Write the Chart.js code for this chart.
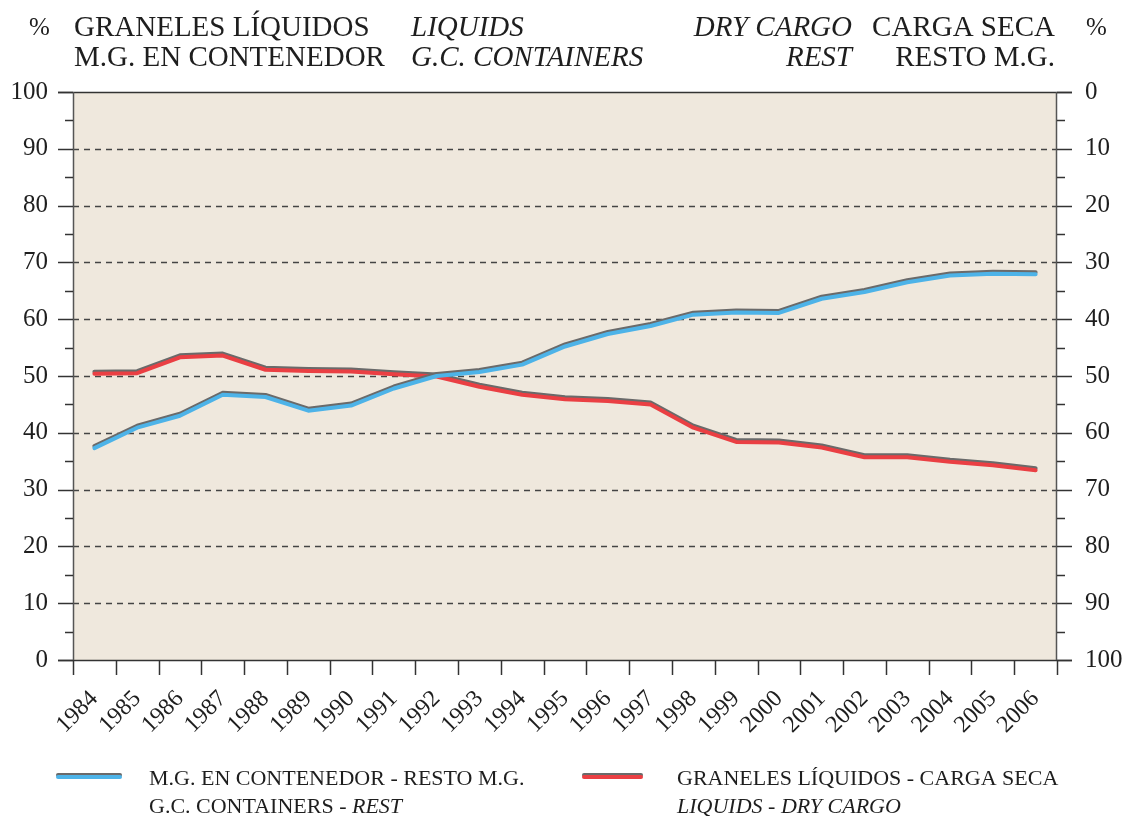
<!DOCTYPE html>
<html><head><meta charset="utf-8">
<script src="https://cdn.jsdelivr.net/npm/chart.js@4/dist/chart.umd.min.js"></script>
<style>html,body{margin:0;padding:0;background:#fff;}#c{display:block;}</style>
</head><body>
<canvas id="c" width="1128" height="816"></canvas>
<script>
const years = ['1984','1985','1986','1987','1988','1989','1990','1991','1992','1993','1994','1995','1996','1997','1998','1999','2000','2001','2002','2003','2004','2005','2006'];
const containers = [37.3,40.9,43.0,46.7,46.3,43.9,44.8,47.8,50.0,50.7,52.0,55.2,57.4,58.8,60.8,61.2,61.1,63.6,64.8,66.5,67.7,68.0,67.9];
const liquids = [50.4,50.5,53.3,53.6,51.1,50.9,50.8,50.3,49.9,48.1,46.7,45.9,45.6,45.0,40.9,38.4,38.3,37.4,35.7,35.7,34.9,34.3,33.4];
const leftTicks = [0,10,20,30,40,50,60,70,80,90,100];
const headerLeft1 = 'GRANELES LÍQUIDOS', headerLeft2 = 'M.G. EN CONTENEDOR';
const headerMidL1 = 'LIQUIDS', headerMidL2 = 'G.C. CONTAINERS';
const headerMidR1 = 'DRY CARGO', headerMidR2 = 'REST';
const headerRight1 = 'CARGA SECA', headerRight2 = 'RESTO M.G.';

const SERIF = '"Liberation Serif", "DejaVu Serif", serif';
const TXT = '#1e1e1e';
const BLUE = '#4db3e8', RED = '#ea3f43', SHADOW = '#6a6a6a';

const shadowPlugin = {
  id: 'shadow',
  beforeDatasetDraw(chart) {
    const ctx = chart.ctx; ctx.save();
    ctx.shadowColor = SHADOW; ctx.shadowOffsetX = 0; ctx.shadowOffsetY = -2; ctx.shadowBlur = 0;
  },
  afterDatasetDraw(chart) { chart.ctx.restore(); }
};

const decoPlugin = {
  id: 'deco',
  beforeDatasetsDraw(chart) {
    const {ctx, chartArea: a, scales} = chart;
    ctx.save();
    ctx.fillStyle = '#efe8dd';
    ctx.fillRect(a.left, a.top, a.right - a.left, a.bottom - a.top);
    ctx.strokeStyle = '#444';
    ctx.lineWidth = 1.3;
    ctx.setLineDash([6,5]);
    leftTicks.forEach(v => {
      if (v === 0 || v === 100) return;
      const y = Math.round(scales.y.getPixelForValue(v)) + 0.5;
      ctx.beginPath(); ctx.moveTo(a.left, y); ctx.lineTo(a.right, y); ctx.stroke();
    });
    ctx.restore();
  },
  afterDatasetsDraw(chart) {
    const {ctx, chartArea: a, scales} = chart;
    ctx.save();
    ctx.strokeStyle = '#333';
    ctx.lineWidth = 1.5;
    [100, 0].forEach(v => {
      const y = Math.round(scales.y.getPixelForValue(v)) + 0.5;
      ctx.beginPath(); ctx.moveTo(a.left - 15, y); ctx.lineTo(a.right + 15, y); ctx.stroke();
    });
    ctx.strokeStyle = '#555';
    ctx.beginPath(); ctx.moveTo(a.left + 0.5, a.top); ctx.lineTo(a.left + 0.5, a.bottom); ctx.stroke();
    ctx.beginPath(); ctx.moveTo(a.right - 0.5, a.top); ctx.lineTo(a.right - 0.5, a.bottom); ctx.stroke();
    for (let v = 0; v <= 100; v += 5) {
      const y = Math.round(scales.y.getPixelForValue(v)) + 0.5;
      const major = v % 10 === 0;
      ctx.strokeStyle = '#333';
      ctx.beginPath(); ctx.moveTo(a.left - (major ? 15 : 8), y); ctx.lineTo(a.left, y); ctx.stroke();
      ctx.beginPath(); ctx.moveTo(a.right, y); ctx.lineTo(a.right + (major ? 15 : 8), y); ctx.stroke();
    }
    for (let i = 0; i <= years.length; i++) {
      const x = Math.round(scales.x.getPixelForValue(i - 0.5)) + 0.5;
      ctx.beginPath(); ctx.moveTo(x, a.bottom); ctx.lineTo(x, a.bottom + 15); ctx.stroke();
    }
    ctx.restore();
  },
  afterDraw(chart) {
    const ctx = chart.ctx;
    ctx.save();
    ctx.fillStyle = TXT;
    ctx.textBaseline = 'alphabetic';
    const up = '29px ' + SERIF, it = 'italic 29px ' + SERIF;
    const t = (s, x, y, f, al) => { ctx.font = f; ctx.textAlign = al; ctx.fillText(s, x, y); };
    t('%', 29, 35, '25px ' + SERIF, 'left');
    t('%', 1086, 35, '25px ' + SERIF, 'left');
    t(headerLeft1, 74, 36, up, 'left');
    t(headerLeft2, 74, 66, up, 'left');
    t(headerMidL1, 411, 36, it, 'left');
    t(headerMidL2, 411, 66, it, 'left');
    t(headerMidR1, 852, 36, it, 'right');
    t(headerMidR2, 852, 66, it, 'right');
    t(headerRight1, 1055, 36, up, 'right');
    t(headerRight2, 1055, 66, up, 'right');
    const ds = chart.data.datasets;
    const sample = (x1, x2, y, col) => {
      ctx.save();
      ctx.lineCap = 'round';
      ctx.lineWidth = 4;
      ctx.strokeStyle = SHADOW;
      ctx.beginPath(); ctx.moveTo(x1, y - 2); ctx.lineTo(x2, y - 2); ctx.stroke();
      ctx.strokeStyle = col;
      ctx.beginPath(); ctx.moveTo(x1, y); ctx.lineTo(x2, y); ctx.stroke();
      ctx.restore();
    };
    sample(58, 120, 777, ds[0].borderColor);
    sample(584, 641, 777, ds[1].borderColor);
    const lu = '22px ' + SERIF, li = 'italic 22px ' + SERIF;
    t(ds[0].label, 149, 785, lu, 'left');
    ctx.font = lu; ctx.textAlign = 'left';
    const p1 = 'G.C. CONTAINERS - ';
    ctx.fillText(p1, 149, 813);
    const w1 = ctx.measureText(p1).width;
    t('REST', 149 + w1, 813, li, 'left');
    t(ds[1].label, 677, 785, lu, 'left');
    t('LIQUIDS - DRY CARGO', 677, 813, li, 'left');
    ctx.restore();
  }
};

new Chart(document.getElementById('c'), {
  type: 'line',
  data: {
    labels: years,
    datasets: [
      { label: 'M.G. EN CONTENEDOR - RESTO M.G.', data: containers, borderColor: BLUE, borderWidth: 4, pointRadius: 0, tension: 0, fill: false, borderJoinStyle: 'round', borderCapStyle: 'round' },
      { label: 'GRANELES LÍQUIDOS - CARGA SECA', data: liquids, borderColor: RED, borderWidth: 4, pointRadius: 0, tension: 0, fill: false, borderJoinStyle: 'round', borderCapStyle: 'round' }
    ]
  },
  options: {
    responsive: false,
    animation: false,
    devicePixelRatio: 1,
    layout: { padding: { top: 92, left: 0, right: 0, bottom: 0 } },
    plugins: { legend: { display: false }, tooltip: { enabled: false }, title: { display: false } },
    scales: {
      x: {
        type: 'category',
        offset: true,
        grid: { display: false, drawTicks: false, offset: true },
        border: { display: false },
        ticks: { autoSkip: false, minRotation: 45, maxRotation: 45, padding: 25, color: TXT, font: { family: SERIF, size: 24 } },
        afterFit(s) { s.height = 156; }
      },
      y: {
        position: 'left', min: 0, max: 100,
        grid: { display: false, drawTicks: false },
        border: { display: false },
        ticks: { stepSize: 10, autoSkip: false, padding: 25, color: TXT, font: { family: SERIF, size: 25 } },
        afterFit(s) { s.width = 73; }
      },
      y2: {
        position: 'right', min: 0, max: 100, reverse: true,
        grid: { display: false, drawTicks: false },
        border: { display: false },
        ticks: { stepSize: 10, autoSkip: false, padding: 28, color: TXT, font: { family: SERIF, size: 25 } },
        afterFit(s) { s.width = 71; }
      }
    }
  },
  plugins: [decoPlugin, shadowPlugin]
});
</script>
</body></html>
